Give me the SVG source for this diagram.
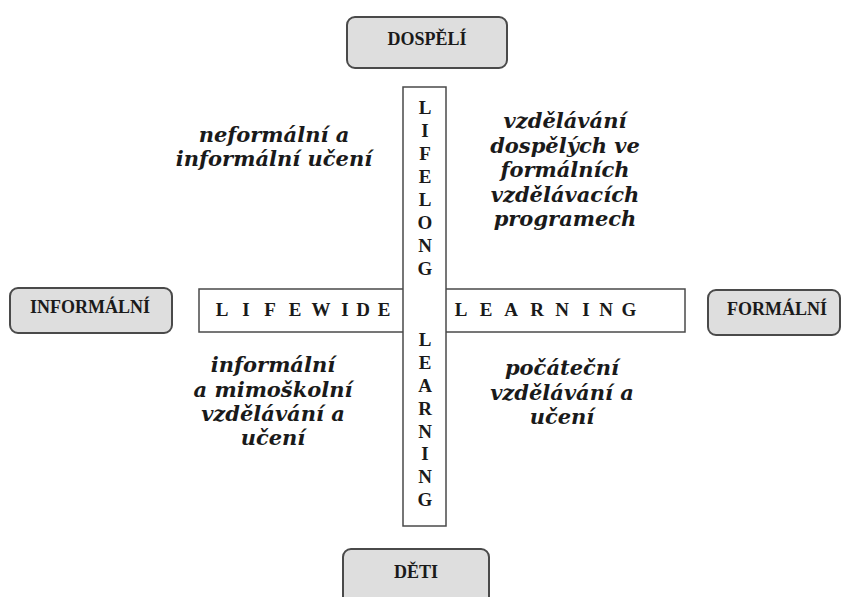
<svg xmlns="http://www.w3.org/2000/svg" width="846" height="597" viewBox="0 0 846 597">
<style>
.box{fill:#dedede;stroke:#4a4a4a;stroke-width:2}
.bl{font-family:"Liberation Serif",serif;font-weight:bold;font-size:18px;fill:#1a1a1a}
.bar{fill:#fff;stroke:#4a4a4a;stroke-width:1.5}
.bt{font-family:"Liberation Serif",serif;font-weight:bold;font-size:19px;fill:#1a1a1a;text-anchor:middle}
.it{font-family:"DejaVu Serif",serif;font-weight:bold;font-style:italic;font-size:21px;fill:#1a1a1a;text-anchor:middle}
</style>
<rect width="846" height="597" fill="#fff"/>
<g id="connectors">
<rect class="bar" x="199" y="289" width="486" height="43"/>
<rect class="bar" x="403" y="87" width="43" height="439"/>
</g>
<g id="lifewide">
<text class="bt" y="316"><tspan x="222">L</tspan><tspan x="246">I</tspan><tspan x="270">F</tspan><tspan x="295">E</tspan><tspan x="321">W</tspan><tspan x="345">I</tspan><tspan x="363">D</tspan><tspan x="384">E</tspan></text>
</g>
<g id="learning-h">
<text class="bt" y="316"><tspan x="461">L</tspan><tspan x="486">E</tspan><tspan x="511">A</tspan><tspan x="537">R</tspan><tspan x="562">N</tspan><tspan x="586">I</tspan><tspan x="606">N</tspan><tspan x="629">G</tspan></text>
</g>
<g id="lifelong">
<text class="bt"><tspan x="425" y="114">L</tspan><tspan x="425" y="137">I</tspan><tspan x="425" y="160">F</tspan><tspan x="425" y="183">E</tspan><tspan x="425" y="206">L</tspan><tspan x="425" y="229">O</tspan><tspan x="425" y="252">N</tspan><tspan x="425" y="275">G</tspan></text>
</g>
<g id="learning-v">
<text class="bt"><tspan x="425" y="346">L</tspan><tspan x="425" y="369">E</tspan><tspan x="425" y="392">A</tspan><tspan x="425" y="415">R</tspan><tspan x="425" y="438">N</tspan><tspan x="425" y="460">I</tspan><tspan x="425" y="483">N</tspan><tspan x="425" y="506">G</tspan></text>
</g>
<g id="dospeli">
<rect class="box" x="347" y="17" width="160" height="51" rx="8"/>
<text class="bl" x="427" y="45" text-anchor="middle" font-size="19">DOSPĚLÍ</text>
</g>
<g id="deti">
<rect class="box" x="343" y="549" width="146" height="60" rx="8"/>
<text class="bl" x="416" y="578" text-anchor="middle" font-size="19">DĚTI</text>
</g>
<g id="informalni">
<rect class="box" x="10" y="288" width="162" height="45" rx="8"/>
<text class="bl" x="90" y="313" text-anchor="middle">INFORMÁLNÍ</text>
</g>
<g id="formalni">
<rect class="box" x="708" y="290" width="132" height="45" rx="8"/>
<text class="bl" x="777" y="315" text-anchor="middle">FORMÁLNÍ</text>
</g>
<g id="q-tl">
<text class="it"><tspan x="274" y="142">neformální a</tspan><tspan x="274" y="166">informální učení</tspan></text>
</g>
<g id="q-tr">
<text class="it"><tspan x="565" y="128">vzdělávání</tspan><tspan x="565" y="153">dospělých ve</tspan><tspan x="565" y="177">formálních</tspan><tspan x="565" y="202">vzdělávacích</tspan><tspan x="565" y="226">programech</tspan></text>
</g>
<g id="q-bl">
<text class="it"><tspan x="273" y="372">informální</tspan><tspan x="273" y="397">a mimoškolní</tspan><tspan x="273" y="421">vzdělávání a</tspan><tspan x="273" y="445">učení</tspan></text>
</g>
<g id="q-br">
<text class="it"><tspan x="562" y="375">počáteční</tspan><tspan x="562" y="400">vzdělávání a</tspan><tspan x="562" y="424">učení</tspan></text>
</g>
</svg>
